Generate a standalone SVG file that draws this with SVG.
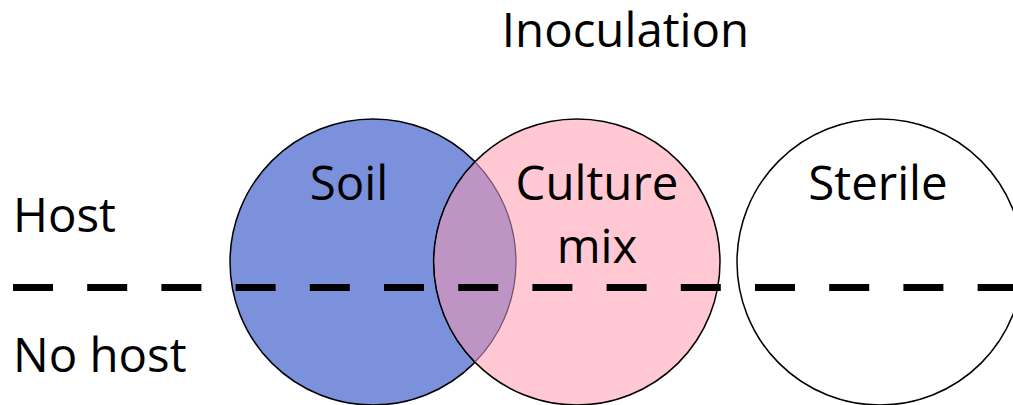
<svg xmlns="http://www.w3.org/2000/svg" width="1013" height="405" viewBox="0 0 1013 405">
  <style>
    text { font-family: "Open Sans", "Noto Sans", "DejaVu Sans", sans-serif; font-size: 47.4px; fill: #000; }
    .mid { text-anchor: middle; }
    .circ { stroke: #000; stroke-width: 1.5; }
  </style>
  <rect width="1013" height="405" fill="#fff"/>
  <g id="soil">
    <circle class="circ" cx="373" cy="262" r="143" fill="#7b91dc"/>
  </g>
  <g id="culture-mix">
    <circle class="circ" cx="577" cy="262" r="143" fill="#ffc8d2"/>
    <path d="M475 161.8 A143 143 0 0 1 475 362.2 A143 143 0 0 1 475 161.8 Z" fill="#bd94c3" stroke="none"/>
    <path d="M433.6 262 A143 143 0 0 1 475 161.8 M433.6 262 A143 143 0 0 0 475 362.2" fill="none" stroke="#000" stroke-width="1.5"/>
    <path d="M475 161.8 A143 143 0 0 1 475 362.2" fill="none" stroke="#6e4d66" stroke-width="1.2"/>
  </g>
  <g id="sterile">
    <circle class="circ" cx="880" cy="262" r="143" fill="#fff"/>
  </g>
  <g id="connectors">
    <line x1="13" y1="287.5" x2="1013" y2="287.5" stroke="#000" stroke-width="7" stroke-dasharray="40 34.2"/>
  </g>
  <g id="labels">
    <text x="625.5" y="47" class="mid">Inoculation</text>
    <text x="13" y="232">Host</text>
    <text x="13" y="372">No host</text>
    <text x="349" y="200" class="mid">Soil</text>
    <text x="597" y="200" class="mid">Culture</text>
    <text x="597" y="263" class="mid">mix</text>
    <text x="878" y="200" class="mid">Sterile</text>
  </g>
</svg>
